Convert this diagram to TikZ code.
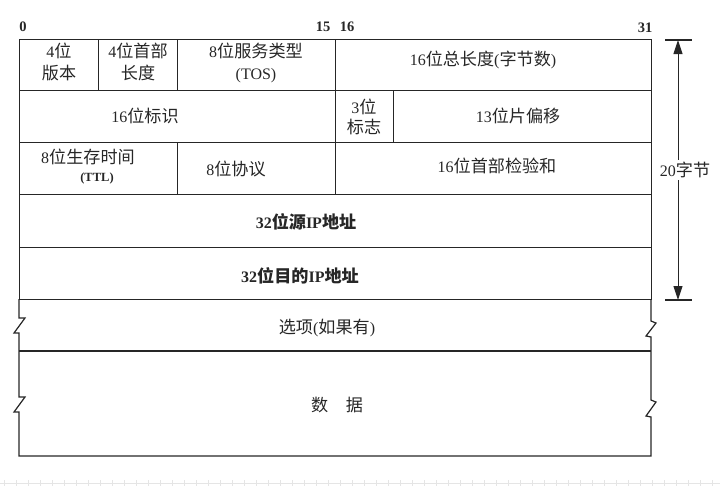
\documentclass[tikz,border=0pt]{standalone}
\usepackage{fontspec}
\setmainfont{Liberation Serif}
\newfontfamily\cjk[Scale=1.07]{Noto Sans CJK SC}
\newcommand\zh[1]{{\cjk #1}}
\usetikzlibrary{arrows.meta}
\definecolor{ink}{HTML}{262626}
\tikzset{
  field/.style={draw=ink, line width=1.2pt, anchor=north west, inner sep=0pt, minimum width=#1},
  field/.default=100pt,
  txt/.style={text=ink, font=\fontsize{16}{19.5}\selectfont, align=center, inner sep=1pt},
  bit/.style={text=ink, font=\fontsize{14.5}{16}\selectfont\bfseries, inner sep=0pt},
  rule/.style={draw=ink, line width=1.2pt},
}
\begin{document}
\begin{tikzpicture}[x=1pt,y=-1pt]
\useasboundingbox (0,0) rectangle (720,488);
% bit numbers
\node[bit] (b0) at (23,27) {0};
\node[bit] (b15) at (323,27) {15};
\node[bit] (b16) at (347,27) {16};
\node[bit] (b31) at (645,28) {31};
% row 1
\node[field=79pt, minimum height=51pt] (ver) at (19,39) {};
\node[field=79pt, minimum height=51pt] (ihl) at (98,39) {};
\node[field=158pt, minimum height=51pt] (tos) at (177,39) {};
\node[field=316pt, minimum height=51pt] (len) at (335,39) {};
% row 2
\node[field=316pt, minimum height=52pt] (id) at (19,90) {};
\node[field=58pt, minimum height=52pt] (flags) at (335,90) {};
\node[field=258pt, minimum height=52pt] (frag) at (393,90) {};
% row 3
\node[field=158pt, minimum height=52pt] (ttl) at (19,142) {};
\node[field=158pt, minimum height=52pt] (proto) at (177,142) {};
\node[field=316pt, minimum height=52pt] (cksum) at (335,142) {};
% row 4, 5
\node[field=632pt, minimum height=53pt] (src) at (19,194) {};
\node[field=632pt, minimum height=52pt] (dst) at (19,247) {};
% options and data with broken sides
\draw[rule, line join=miter]
  (19,299) -- (19,318) -- (25,318) -- (14,333) -- (19,333)
  -- (19,397) -- (25,397) -- (14,412) -- (19,412)
  -- (19,456) -- (651,456)
  -- (651,417) -- (646,416) -- (656,402) -- (651,400)
  -- (651,337) -- (646,336) -- (656,323) -- (651,321)
  -- (651,299);
\draw[rule] (19,351) -- (651,351);
% texts
\node[txt] (tver) at (59,62) {4\zh{位}\\[2pt]\zh{版本}};
\node[txt] (tihl) at (138,62) {4\zh{位首部}\\[2pt]\zh{长度}};
\node[txt] (ttos) at (256,63) {8\zh{位服务类型}\\[2pt](TOS)};
\node[txt] (tlen) at (483,60) {16\zh{位总长度}(\zh{字节数})};
\node[txt] (tid) at (145,116) {16\zh{位标识}};
\node[txt] (tflags) at (364,117) {3\zh{位}\\[1pt]\zh{标志}};
\node[txt] (tfrag) at (518,116) {13\zh{位片偏移}};
\node[txt] (tttl) at (88,157) {8\zh{位生存时间}};
\node[txt, font=\fontsize{12.5}{14}\selectfont\bfseries] (tttl2) at (97,178) {(TTL)};
\node[txt] (tproto) at (236,169) {8\zh{位协议}};
\node[txt] (tcksum) at (497,166) {16\zh{位首部检验和}};
\node[txt, font=\fontsize{16}{19.5}\selectfont\bfseries] (tsrc) at (306,222) {32\zh{位源}IP\zh{地址}};
\node[txt, font=\fontsize{16}{19.5}\selectfont\bfseries] (tdst) at (300,276) {32\zh{位目的}IP\zh{地址}};
\node[txt] (topt) at (327,328) {\zh{选项}(\zh{如果有})};
\node[txt] (tdata) at (337,405) {\zh{数}\hspace{1.1em}\zh{据}};
% 20 bytes dimension
\coordinate (atop) at (678,40);
\coordinate (abot) at (678,300);
\coordinate (tl) at (665,40); \coordinate (tr) at (692,40);
\coordinate (bl) at (665,300); \coordinate (br) at (692,300);
\draw[rule] (tl) -- (tr);
\draw[rule] (bl) -- (br);
\draw[draw=ink, fill=ink, line width=1pt, {Triangle[length=14pt,width=9pt]}-{Triangle[length=14pt,width=9pt]}] (atop) -- (abot);
\node[txt, fill=white, inner sep=2pt] (tbytes) at (685,170) {20\zh{字节}};
% faint scan ruler at the bottom
\draw[black!10, line width=0.6pt] (0,483) -- (720,483);
\foreach \i in {0,...,60} { \draw[black!10, line width=0.5pt] (4+12*\i,480) -- (4+12*\i,486); }
\end{tikzpicture}
\end{document}
